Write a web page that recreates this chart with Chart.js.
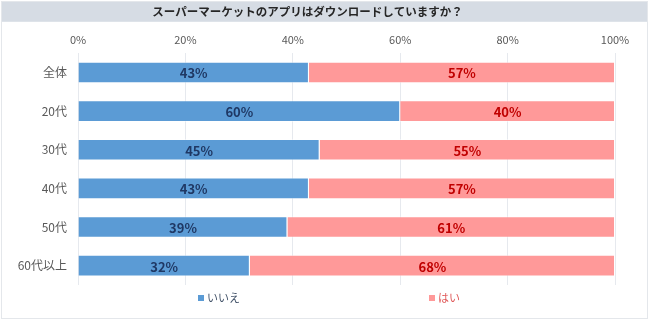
<!DOCTYPE html>
<html>
<head>
<meta charset="utf-8">
<script src="https://cdn.jsdelivr.net/npm/chart.js@4"></script>
<style>
  body { margin: 0; background: #fff; }
  #wrap { width: 650px; height: 328px; }
</style>
</head>
<body>
<div id="wrap"><canvas id="appChart"></canvas></div>
<script>
// chart data
const categories = ['全体', '20代', '30代', '40代', '50代', '60代以上'];
const seriesNames = ['いいえ', 'はい'];
const noValues = [43, 60, 45, 43, 39, 32];
const yesValues = [57, 40, 55, 57, 61, 68];
const tickValues = [0, 20, 40, 60, 80, 100];

const FONT = "'Noto Sans CJK JP', 'Noto Sans', sans-serif";

// background, outer border and grey title band
const framePlugin = {
  id: 'frame',
  beforeDraw: function (chart) {
    const ctx = chart.ctx;
    const t = chart.titleBlock;
    ctx.save();
    ctx.fillStyle = '#ffffff';
    ctx.fillRect(0, 0, chart.width, chart.height);
    ctx.fillStyle = '#d6dce4';
    ctx.fillRect(2, t.top, chart.width - 4, t.bottom - t.top);
    ctx.strokeStyle = '#e4e7eb';
    ctx.lineWidth = 1;
    ctx.strokeRect(1.5, 1.5, chart.width - 4, 317);
    ctx.restore();
  }
};

// percent labels in the middle of each bar
const valueLabels = {
  id: 'valueLabels',
  afterDatasetsDraw: function (chart) {
    const ctx = chart.ctx;
    ctx.save();
    ctx.font = 'bold 13px ' + FONT;
    ctx.textAlign = 'center';
    ctx.textBaseline = 'middle';
    chart.data.datasets.forEach(function (ds, i) {
      const meta = chart.getDatasetMeta(i);
      ctx.fillStyle = ds.labelColor;
      meta.data.forEach(function (bar, j) {
        const p = bar.getProps(['x', 'y', 'base'], true);
        ctx.fillText(ds.data[j] + '%', (p.x + p.base) / 2, p.y + 1);
      });
    });
    ctx.restore();
  }
};

// legend spread out under the plot like the original
const wideLegend = {
  id: 'wideLegend',
  afterDraw: function (chart) {
    const ctx = chart.ctx;
    const y = 298;
    const starts = [198, 429];
    ctx.save();
    ctx.font = '11px ' + FONT;
    ctx.textBaseline = 'middle';
    chart.data.datasets.forEach(function (ds, i) {
      ctx.fillStyle = ds.backgroundColor;
      ctx.fillRect(starts[i], y - 3, 6, 6);
      ctx.fillStyle = ds.legendColor;
      ctx.fillText(ds.label, starts[i] + 9, y);
    });
    ctx.restore();
  }
};

const ctx = document.getElementById('appChart').getContext('2d');
const appChart = new Chart(ctx, {
  type: 'bar',
  data: {
    labels: categories,
    datasets: [
      {
        label: seriesNames[0],
        data: noValues,
        backgroundColor: '#5b9bd5',
        borderColor: 'rgba(255,255,255,0.45)',
        borderWidth: 1,
        labelColor: '#1f3864',
        legendColor: '#44546a'
      },
      {
        label: seriesNames[1],
        data: yesValues,
        backgroundColor: '#ff9999',
        borderColor: 'rgba(255,255,255,0.45)',
        borderWidth: 1,
        labelColor: '#c00000',
        legendColor: '#e05a5a'
      }
    ]
  },
  options: {
    indexAxis: 'y',
    responsive: true,
    maintainAspectRatio: false,
    animation: false,
    categoryPercentage: 1,
    barPercentage: 0.56,
    layout: {
      padding: { top: 2, left: 0, right: 35, bottom: 43 }
    },
    scales: {
      x: {
        position: 'top',
        stacked: true,
        min: 0,
        max: 100,
        afterBuildTicks: function (scale) {
          scale.ticks = tickValues.map(function (v) { return { value: v }; });
        },
        afterFit: function (scale) {
          scale.height = 31.4;
        },
        grid: { color: '#e6e9ee', drawTicks: false },
        border: { display: false },
        ticks: {
          padding: 7,
          color: '#595959',
          font: { family: FONT, size: 11 },
          callback: function (v) { return v + '%'; }
        }
      },
      y: {
        stacked: true,
        afterFit: function (scale) {
          scale.width = 78;
        },
        grid: { display: false },
        border: { display: false },
        ticks: {
          padding: 3,
          color: '#595959',
          font: { family: FONT, size: 12 }
        }
      }
    },
    plugins: {
      legend: { display: false },
      tooltip: { enabled: false },
      title: {
        display: true,
        text: 'スーパーマーケットのアプリはダウンロードしていますか？',
        color: '#262626',
        font: { family: FONT, size: 11.5, weight: 'bold' },
        padding: { top: 3, bottom: 3 }
      }
    }
  },
  plugins: [framePlugin, valueLabels, wideLegend]
});
</script>
</body>
</html>
